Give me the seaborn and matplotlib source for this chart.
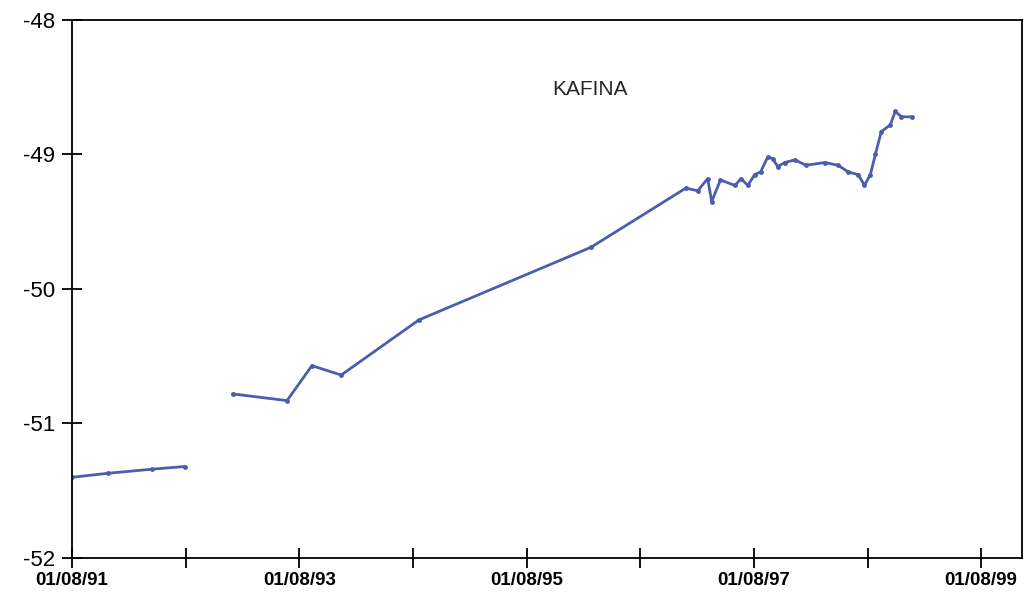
import pandas as pd
import numpy as np
import matplotlib
matplotlib.use("Agg")
import matplotlib.pyplot as plt
import matplotlib.dates as mdates
import seaborn as sns

sns.set_style("white")
plt.rcParams['font.family'] = ['Liberation Sans', 'DejaVu Sans']

# first series piece (1991-92)
dates_a = ["1991-08-01", "1991-11-26", "1992-04-13", "1992-07-28"]
values_a = [-51.40, -51.37, -51.34, -51.32]

# second piece (1993-98)
dates_b = ["1992-12-29", "1993-06-22", "1993-09-10", "1993-12-13", "1994-08-20",
           "1996-02-24", "1996-12-25", "1997-02-01", "1997-03-05", "1997-03-18",
           "1997-04-15", "1997-06-01", "1997-06-20", "1997-07-12", "1997-08-03",
           "1997-08-22", "1997-09-14", "1997-09-30", "1997-10-16", "1997-11-08",
           "1997-12-10", "1998-01-15", "1998-03-17", "1998-04-28", "1998-05-31",
           "1998-07-02", "1998-07-22", "1998-08-10", "1998-08-26", "1998-09-14",
           "1998-10-13", "1998-10-29", "1998-11-18", "1998-12-21"]
values_b = [-50.78, -50.83, -50.57, -50.64, -50.23,
            -49.69, -49.25, -49.27, -49.18, -49.35,
            -49.19, -49.23, -49.18, -49.23, -49.15,
            -49.13, -49.02, -49.03, -49.09, -49.06,
            -49.04, -49.08, -49.06, -49.08, -49.13,
            -49.15, -49.23, -49.15, -49.00, -48.83,
            -48.78, -48.68, -48.72, -48.72]

x_ticks = ["1991-08-01", "1992-08-01", "1993-08-01", "1994-08-01", "1995-08-01",
           "1996-08-01", "1997-08-01", "1998-08-01", "1999-08-01"]
x_labels = ["01/08/91", "", "01/08/93", "", "01/08/95", "", "01/08/97", "", "01/08/99"]
y_ticks = [-52, -51, -50, -49, -48]

df = pd.concat([
    pd.DataFrame({"date": pd.to_datetime(dates_a), "value": values_a, "seg": 0}),
    pd.DataFrame({"date": pd.to_datetime(dates_b), "value": values_b, "seg": 1}),
])

fig = plt.figure(figsize=(10.26, 6.05), dpi=100)
ax = fig.add_axes([0.0702, 0.0777, 0.9258, 0.8893])

sns.lineplot(data=df, x="date", y="value", units="seg", estimator=None,
             color="#4a5eab", linewidth=2, marker="o", markersize=3.5,
             markeredgewidth=0, ax=ax)

ax.set_xlim(pd.Timestamp("1991-08-01"), pd.Timestamp("1999-12-10"))
ax.set_ylim(-52, -48)
ax.set_xticks(pd.to_datetime(x_ticks))
ax.set_xticklabels(x_labels, fontweight="bold", fontsize=13.5)
ax.set_yticks(y_ticks)
ax.set_yticklabels([str(v) for v in y_ticks], fontsize=16)
ax.tick_params(bottom=True, left=True, direction="inout", length=14,
               width=1.3, colors="black", pad=5)
ax.tick_params(axis="x", length=14, pad=3)

for s in ax.spines.values():
    s.set_visible(True)
    s.set_color("black")
    s.set_linewidth(1.3)

ax.set_xlabel("")
ax.set_ylabel("")
ax.text(0.545, 0.87, "KAFINA", transform=ax.transAxes, ha="center", va="center",
        fontsize=15)

fig.savefig("out.png", dpi=100)
